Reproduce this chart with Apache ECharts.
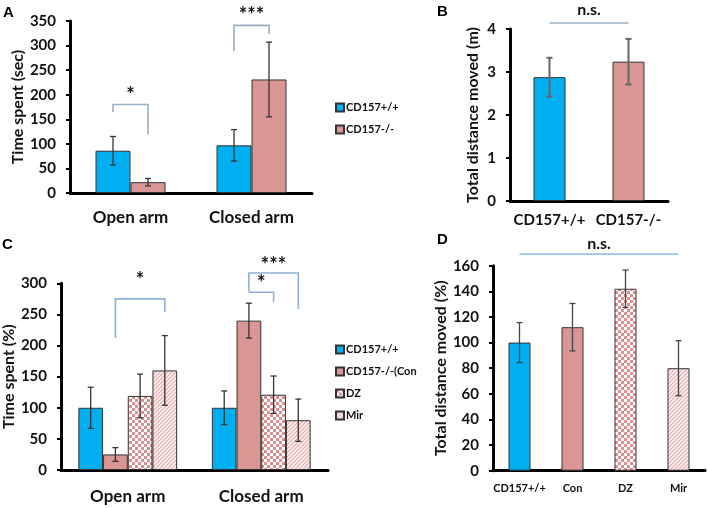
<!DOCTYPE html>
<html>
<head>
<meta charset="utf-8">
<script src="https://cdn.jsdelivr.net/npm/echarts@6/dist/echarts.min.js"></script>
<style>
html,body{margin:0;padding:0;background:#fff;}
#chart{width:708px;height:508px;}
</style>
</head>
<body>
<div id="chart"></div>
<script>
// ---------- DATA ----------
const catsA = ['Open arm', 'Closed arm'];
const aWT = [86, 97];
const aWTerr = [29, 32];
const aKO = [22, 231];
const aKOerr = [7.5, 76];
const namesA = ['CD157+/+', 'CD157-/-'];
// bracket: [catFrom, seriesFrom, catTo, seriesTo, topY, leftEndY, rightEndY, labelY]
const bracketsA = [[0, 0, 0, 1, 180, 165, 119, 199], [1, 0, 1, 1, 341, 289, 324, 361]];
const bracketLabelsA = ['*', '***'];

const catsB = ['CD157+/+', 'CD157-/-'];
const bVal = [2.88, 3.24];
const bErr = [0.45, 0.53];
const bracketsB = [[0, 0, 1, 0, 4.14, 4.14, 4.14, 4.44]];
const bracketLabelsB = ['n.s.'];

const catsC = ['Open arm', 'Closed arm'];
const namesC = ['CD157+/+', 'CD157-/-(Con', 'DZ', 'Mir'];
const cWT = [100, 100];
const cWTerr = [33, 27];
const cCon = [25, 240];
const cConErr = [11, 28];
const cDZ = [119, 121];
const cDZerr = [35, 30];
const cMir = [160, 80];
const cMirErr = [56, 34];
const bracketsC = [[0, 1, 0, 3, 275, 212, 254, 305], [1, 1, 1, 3, 316.5, 286.5, 258.7, 329], [1, 1, 1, 2, 285.5, 285.5, 269.5, 299]];
const bracketLabelsC = ['*', '***', '*'];

const catsD = ['CD157+/+', 'Con', 'DZ', 'Mir'];
const dVal = [100, 112, 142, 80];
const dErr = [15.6, 18.5, 14.6, 21.5];
const bracketsD = [[0, 0, 3, 0, 169, 169, 169, 177]];
const bracketLabelsD = ['n.s.'];

// ---------- STYLE ----------
const FONT = 'Lato';
const BLUE = '#00AFEF';
const PINK = '#D99694';

function checker() {
  const c = document.createElement('canvas');
  c.width = 6; c.height = 6;
  const g = c.getContext('2d');
  g.fillStyle = '#ffffff'; g.fillRect(0, 0, 6, 6);
  g.fillStyle = '#D9908F';
  g.fillRect(0, 0, 3, 3); g.fillRect(3, 3, 3, 3);
  return c;
}
function hatch() {
  const c = document.createElement('canvas');
  c.width = 4; c.height = 4;
  const g = c.getContext('2d');
  g.fillStyle = '#fbf1f1'; g.fillRect(0, 0, 4, 4);
  g.strokeStyle = '#E2A9A8'; g.lineWidth = 1.1;
  g.beginPath();
  g.moveTo(0, 4); g.lineTo(4, 0);
  g.moveTo(-1, 1); g.lineTo(1, -1);
  g.moveTo(3, 5); g.lineTo(5, 3);
  g.stroke();
  return c;
}
const CHECK = {image: checker(), repeat: 'repeat'};
const HATCH = {image: hatch(), repeat: 'repeat'};
const fillsC = [BLUE, PINK, CHECK, HATCH];
const fillsD = [BLUE, PINK, CHECK, HATCH];

const grids = [
  {left: 70, top: 21, width: 242, height: 172},
  {left: 510, top: 29, width: 158, height: 172},
  {left: 61, top: 283.3, width: 267, height: 186.7},
  {left: 493, top: 265.7, width: 212, height: 205}
];

function xAx(gi, cats, fs, margin) {
  return {
    type: 'category', gridIndex: gi, data: cats,
    axisLine: {lineStyle: {color: '#000', width: 3}},
    axisTick: {show: false},
    axisLabel: {fontFamily: FONT, fontWeight: 'bold', fontSize: fs, color: '#111', margin: margin, interval: 0}
  };
}
function yAx(gi, max, interval, name, gap) {
  return {
    type: 'value', gridIndex: gi, min: 0, max: max, interval: interval,
    name: name, nameLocation: 'middle', nameGap: gap,
    nameTextStyle: {fontFamily: FONT, fontWeight: 'bold', fontSize: 16, color: '#111'},
    axisLine: {show: true, lineStyle: {color: '#000', width: 3}},
    axisTick: {show: true, length: 4, lineStyle: {color: '#000', width: 2}},
    splitLine: {show: false},
    axisLabel: {fontFamily: FONT, fontWeight: 'bold', fontSize: 15, color: '#111', margin: 14}
  };
}

function errSeries(gi, nSeries, barW, rows, color, lw, cap) {
  return {
    type: 'custom', xAxisIndex: gi, yAxisIndex: gi, clip: false, z: 5,
    silent: true,
    encode: {x: 0, y: [2, 3]},
    data: rows,
    renderItem: function (params, api) {
      const cat = api.value(0), s = api.value(1);
      const lo = api.coord([cat, api.value(2)]);
      const hi = api.coord([cat, api.value(3)]);
      const x = lo[0] + (s - (nSeries - 1) / 2) * barW;
      const st = {stroke: color, lineWidth: lw};
      return {type: 'group', children: [
        {type: 'line', shape: {x1: x, y1: lo[1], x2: x, y2: hi[1]}, style: st},
        {type: 'line', shape: {x1: x - cap, y1: lo[1], x2: x + cap, y2: lo[1]}, style: st},
        {type: 'line', shape: {x1: x - cap, y1: hi[1], x2: x + cap, y2: hi[1]}, style: st}
      ]};
    }
  };
}

function bracketSeries(gi, nSeries, barW, rows, labels, fs, color) {
  return {
    type: 'custom', xAxisIndex: gi, yAxisIndex: gi, clip: false, z: 6, silent: true,
    encode: {x: 0, y: 4},
    data: rows,
    renderItem: function (params, api) {
      const r = rows[params.dataIndex];
      const px = (cat, s, y) => {
        const p = api.coord([cat, y]);
        return [p[0] + (s - (nSeries - 1) / 2) * barW, p[1]];
      };
      const a = px(r[0], r[1], r[5]);
      const b = px(r[0], r[1], r[4]);
      const c = px(r[2], r[3], r[4]);
      const d = px(r[2], r[3], r[6]);
      const t = api.coord([r[0], r[7]]);
      return {type: 'group', children: [
        {type: 'polyline', shape: {points: [a, b, c, d]}, style: {stroke: color, lineWidth: 1.6, fill: null}},
        {type: 'text', style: {text: labels[params.dataIndex], x: (b[0] + c[0]) / 2, y: t[1],
          textAlign: 'center', textVerticalAlign: 'middle',
          font: 'bold ' + fs + 'px ' + FONT, fill: '#111'}}
      ]};
    }
  };
}

function errRows(vals, errs, sIdx) {
  return vals.map((v, i) => [i, sIdx, v - errs[i], v + errs[i]]);
}

const barBorder = {borderColor: '#333', borderWidth: 1};
const BW_A = 35, BW_B = 32, BW_C = 24.7, BW_D = 22;

const series = [];
// Panel A
series.push({type: 'bar', name: namesA[0], xAxisIndex: 0, yAxisIndex: 0, data: aWT, barWidth: BW_A, barGap: '0%',
  itemStyle: Object.assign({color: BLUE}, barBorder)});
series.push({type: 'bar', name: namesA[1], xAxisIndex: 0, yAxisIndex: 0, data: aKO, barWidth: BW_A, barGap: '0%',
  itemStyle: Object.assign({color: PINK}, barBorder)});
series.push(errSeries(0, 2, BW_A, errRows(aWT, aWTerr, 0).concat(errRows(aKO, aKOerr, 1)), '#333', 1.3, 3));
series.push(bracketSeries(0, 2, BW_A, bracketsA, bracketLabelsA, 20, '#9AAFC6'));
// Panel B
series.push({type: 'bar', name: 'B', xAxisIndex: 1, yAxisIndex: 1, barWidth: BW_B,
  data: bVal.map((v, i) => ({value: v, itemStyle: Object.assign({color: [BLUE, PINK][i]}, barBorder)}))});
series.push(errSeries(1, 1, BW_B, errRows(bVal, bErr, 0), '#666', 2, 3));
series.push(bracketSeries(1, 1, BW_B, bracketsB, bracketLabelsB, 16, '#9AAFC6'));
// Panel C
const cVals = [cWT, cCon, cDZ, cMir], cErrs = [cWTerr, cConErr, cDZerr, cMirErr];
let cErrRows = [];
cVals.forEach((vals, s) => {
  series.push({type: 'bar', name: namesC[s], xAxisIndex: 2, yAxisIndex: 2, data: vals, barWidth: BW_C, barGap: '0%',
    itemStyle: Object.assign({color: fillsC[s]}, barBorder)});
  cErrRows = cErrRows.concat(errRows(vals, cErrs[s], s));
});
series.push(errSeries(2, 4, BW_C, cErrRows, '#333', 1.3, 3));
series.push(bracketSeries(2, 4, BW_C, bracketsC, bracketLabelsC, 20, '#8FB0D8'));
// Panel D
series.push({type: 'bar', name: 'D', xAxisIndex: 3, yAxisIndex: 3, barWidth: BW_D,
  data: dVal.map((v, i) => ({value: v, itemStyle: Object.assign({color: fillsD[i]}, barBorder)}))});
series.push(errSeries(3, 1, BW_D, errRows(dVal, dErr, 0), '#444', 1.3, 3));
series.push(bracketSeries(3, 1, BW_D, bracketsD, bracketLabelsD, 16, '#9DC3E6'));

const legendCommon = {
  orient: 'vertical', itemWidth: 8, itemHeight: 8, itemGap: 11, selectedMode: false,
  icon: 'rect',
  textStyle: {fontFamily: FONT, fontWeight: 'bold', fontSize: 11, color: '#111', padding: [0, 0, 0, -3]}
};

const option = {
  animation: false,
  backgroundColor: '#fff',
  grid: grids,
  xAxis: [xAx(0, catsA, 17, 16), xAx(1, catsB, 15, 12), xAx(2, catsC, 17, 18), xAx(3, catsD, 11, 12)],
  yAxis: [yAx(0, 350, 50, 'Time spent (sec)', 35), yAx(1, 4, 1, 'Total distance moved (m)', 29),
    yAx(2, 300, 50, 'Time spent (%)', 39), yAx(3, 160, 20, 'Total distance moved (%)', 37)],
  legend: [
    Object.assign({left: 330, top: 97, data: namesA}, legendCommon),
    Object.assign({left: 330, top: 339, data: namesC}, legendCommon)
  ],
  graphic: [
    {type: 'text', left: 3, top: 5, style: {text: 'A', font: 'bold 15px Liberation Sans', fill: '#000'}},
    {type: 'text', left: 437, top: 4, style: {text: 'B', font: 'bold 15px Liberation Sans', fill: '#000'}},
    {type: 'text', left: 2, top: 237, style: {text: 'C', font: 'bold 15px Liberation Sans', fill: '#000'}},
    {type: 'text', left: 437, top: 232, style: {text: 'D', font: 'bold 15px Liberation Sans', fill: '#000'}}
  ],
  series: series
};

const chart = echarts.init(document.getElementById('chart'), null, {renderer: 'canvas'});
chart.setOption(option);
</script>
</body>
</html>
